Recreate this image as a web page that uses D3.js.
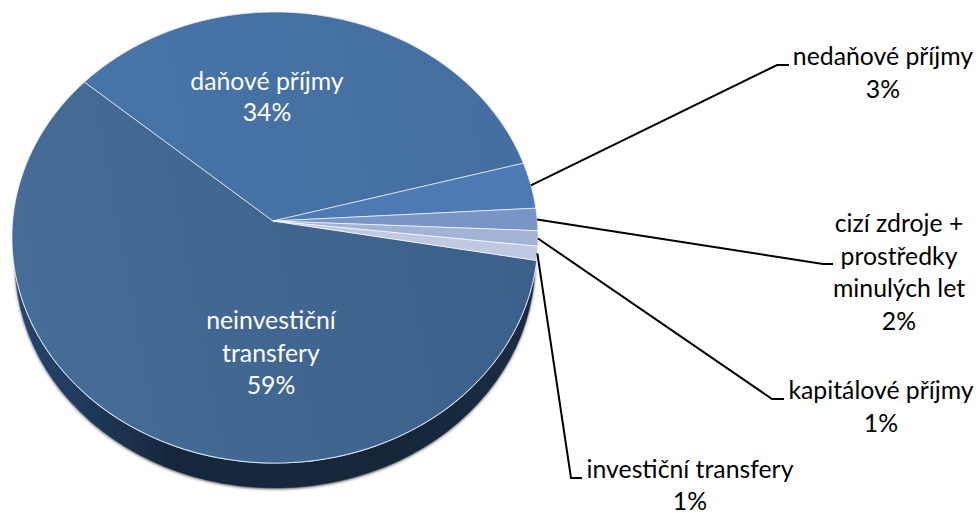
<!DOCTYPE html>
<html><head><meta charset="utf-8">
<script src="https://cdn.jsdelivr.net/npm/d3@7"></script>
<style>html,body{margin:0;padding:0;background:#fff}svg{display:block}text{font-family:Lato,"Open Sans",sans-serif}</style>
</head><body><svg id="c" width="980" height="513"></svg>
<script>
const categories = ["neinvestiční transfery","daňové příjmy","nedaňové příjmy","cizí zdroje + prostředky minulých let","kapitálové příjmy","investiční transfery"];
const percentLabels = ["59%","34%","3%","2%","1%","1%"];
const sliceShares = [59.1,33.9,3.3,1.6,1.1,1.0];
const labelLines = [["neinvestiční","transfery"],["daňové příjmy"],["nedaňové příjmy"],["cizí zdroje +","prostředky","minulých let"],["kapitálové příjmy"],["investiční transfery"]];

const cx=275,cy=237.5,rx=263,ry=225.5;      // rim ellipse of the top face
const apex=[273,221];                       // perspective-shifted pie centre
const lower={cx:275,cy:262.5,rx:260,ry:225.5};
const persp=1.0513;                         // perspective compression of rim angles
const labelPos=[[271,329,32.5],[267,90,31],[883,65,33],[899,232,32.5],[881,399,32.5],[690,478,32]];
const leaders=[null,null,[[777,65],[789,65]],[[823,264],[833,264]],[[772,399],[784,399]],[[571,478],[582,478]]];
const colors=[["#466c98","#3a5f8a"],["#4a75aa","#436e9f"],["#4d7ab4","#4d7ab4"],["#7994c6","#7994c6"],["#a2b3d6","#a2b3d6"],["#bfcae2","#bfcae2"]];
const svg=d3.select("#c");
const defs=svg.append("defs");
colors.forEach((c,i)=>{
  const g=defs.append("linearGradient").attr("id","g"+i).attr("gradientUnits","userSpaceOnUse")
    .attr("x1",12).attr("y1",300).attr("x2",538).attr("y2",200);
  g.append("stop").attr("offset",0).attr("stop-color",c[0]);
  g.append("stop").attr("offset",1).attr("stop-color",c[1]);
});
const sg=defs.append("linearGradient").attr("id","side").attr("gradientUnits","userSpaceOnUse").attr("x1",-260).attr("x2",260).attr("y1",0).attr("y2",0);
[[0,"#264670"],[0.15,"#1f3858"],[0.3,"#18273c"],[0.75,"#182739"],[1,"#1a2c45"]].forEach(s=>sg.append("stop").attr("offset",s[0]).attr("stop-color",s[1]));
const f=defs.append("filter").attr("id","sh").attr("x","-5%").attr("y","-5%").attr("width","110%").attr("height","112%");
f.append("feDropShadow").attr("dx",0).attr("dy",1.5).attr("stdDeviation",1.5).attr("flood-color","#000").attr("flood-opacity",.55);

const pie=d3.pie().sort(null).value(d=>d).startAngle(98.7*Math.PI/180).endAngle((98.7+360)*Math.PI/180);
const arcs=pie(sliceShares);
// map a true pie angle to the projected rim angle
const rimAngle=a=>{
  const k=Math.round(a/(2*Math.PI));
  const r=a-k*2*Math.PI;
  return k*2*Math.PI+2*Math.atan(Math.tan(r/2)/persp);
};
const rimPoint=a=>{const p=rimAngle(a);return [cx+rx*Math.sin(p),cy-ry*Math.cos(p)];};
const line=d3.line();
const slicePath=d=>{
  const n=Math.max(2,Math.ceil((d.endAngle-d.startAngle)/0.01));
  const pts=d3.range(n+1).map(j=>rimPoint(d.startAngle+(d.endAngle-d.startAngle)*j/n));
  return line([apex,...pts])+"Z";
};
const arc=d3.arc().innerRadius(0).outerRadius(lower.rx);
const sideG=svg.append("g").attr("transform",`translate(${lower.cx},${lower.cy}) scale(1,${lower.ry/lower.rx})`).attr("filter","url(#sh)");
sideG.selectAll("path").data(arcs).join("path").attr("d",arc).attr("fill","url(#side)").attr("stroke","url(#side)").attr("stroke-width",.5);
const faceG=svg.append("g");
faceG.append("ellipse").attr("cx",cx).attr("cy",cy).attr("rx",rx+.6).attr("ry",ry+.6).attr("fill","#e8edf4");
faceG.selectAll("path").data(arcs).join("path").attr("d",slicePath)
  .attr("fill",(d,i)=>"url(#g"+i+")").attr("stroke","#fff").attr("stroke-width",.8).attr("stroke-opacity",.8).attr("stroke-linejoin","round");
arcs.forEach((d,i)=>{
  if(!leaders[i])return;
  svg.append("path").attr("d",line([rimPoint((d.startAngle+d.endAngle)/2),...leaders[i]])).attr("fill","none").attr("stroke","#000").attr("stroke-width",2);
});
labelLines.forEach((ls,i)=>{
  const p=labelPos[i];
  const t=svg.append("text").attr("text-anchor","middle").attr("font-size",24.8).attr("fill",i<2?"#fff":"#000");
  ls.concat(percentLabels[i]).forEach((s,j)=>t.append("tspan").attr("x",p[0]).attr("y",p[1]+j*p[2]).text(s));
});
</script></body></html>
